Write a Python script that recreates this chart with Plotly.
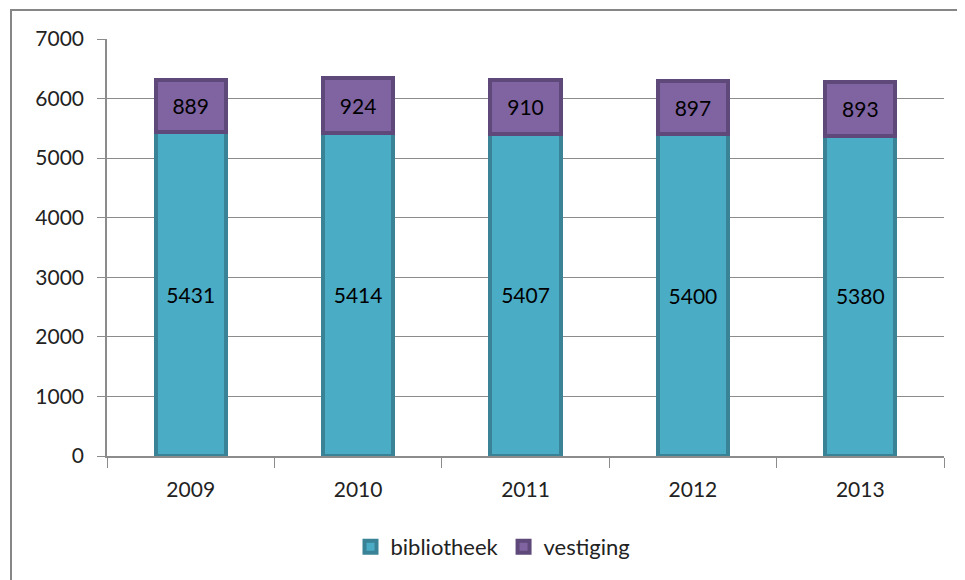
import plotly.graph_objects as go

years = ["2009", "2010", "2011", "2012", "2013"]
bibliotheek = [5431, 5414, 5407, 5400, 5380]
vestiging = [889, 924, 910, 897, 893]
y_ticks = [0, 1000, 2000, 3000, 4000, 5000, 6000, 7000]

# page body has an 8px margin; figure sized so the plot lands where the reference has it
OFF = 8
W, H = 965 - OFF, 580 - OFF
L, R, T, B = 107 - OFF, 21, 39 - OFF, 124
pw, ph = W - L - R, H - T - B

def px_x(x):
    return (x - OFF - L) / pw

def px_y(y):
    return (H - B - (y - OFF)) / ph

font = "Lato, Calibri, Carlito, sans-serif"

fig = go.Figure()
fig.add_trace(go.Bar(
    x=years, y=bibliotheek, name="bibliotheek",
    marker=dict(color="#4BACC6", line=dict(color="#3A8396", width=4)),
    text=[str(v) for v in bibliotheek], textposition="inside",
    insidetextanchor="middle", textangle=0,
    textfont=dict(color="black", size=21, family=font),
))
fig.add_trace(go.Bar(
    x=years, y=vestiging, name="vestiging",
    marker=dict(color="#8064A2", line=dict(color="#5F497A", width=4)),
    text=[str(v) for v in vestiging], textposition="inside",
    insidetextanchor="middle", textangle=0,
    textfont=dict(color="black", size=21, family=font),
))

fig.update_layout(
    barmode="stack", bargap=0.58,
    width=W, height=H,
    margin=dict(l=L, r=R, t=T, b=B),
    paper_bgcolor="white", plot_bgcolor="white",
    font=dict(family=font, size=21, color="#222"),
    showlegend=True,
    legend=dict(orientation="h", x=px_x(493), xanchor="center", y=px_y(547), yanchor="middle",
                font=dict(size=22), itemwidth=30, traceorder="normal"),
    uniformtext=dict(minsize=18, mode="show"),
    xaxis=dict(type="category", showline=True, linecolor="#8c8c8c", linewidth=1.5,
               ticks="outside", tickson="boundaries", ticklen=10, tickcolor="#8c8c8c",
               showgrid=False, tickfont=dict(size=21), mirror=False,
               ticklabelstandoff=14),
    yaxis=dict(range=[0, 7000], tickvals=y_ticks, showline=True, linecolor="#8c8c8c",
               linewidth=1.5, ticks="outside", ticklen=8, tickcolor="#8c8c8c",
               showgrid=True, gridcolor="#8c8c8c", gridwidth=1, zeroline=False,
               tickfont=dict(size=21), ticklabelstandoff=9),
    shapes=[dict(type="rect", xref="paper", yref="paper",
                 x0=px_x(11), x1=px_x(985), y0=px_y(600), y1=px_y(10),
                 line=dict(color="#868686", width=2), fillcolor="rgba(0,0,0,0)",
                 layer="below")],
)

fig.write_html("out.html")
